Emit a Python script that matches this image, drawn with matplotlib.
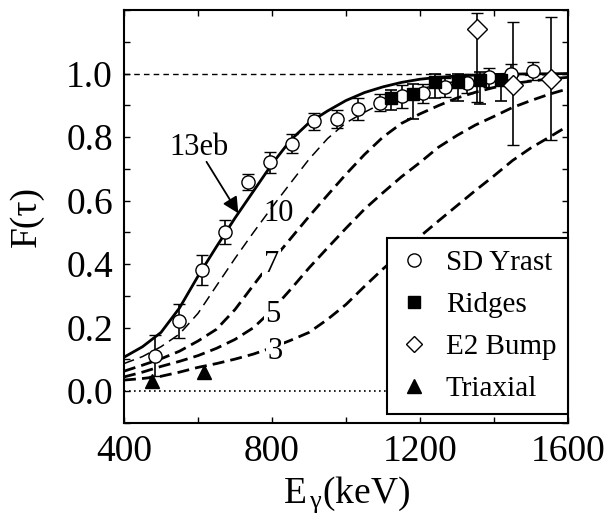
import matplotlib
matplotlib.use('Agg')
import matplotlib.pyplot as plt
from matplotlib.ticker import MultipleLocator, FixedLocator
from matplotlib.lines import Line2D

plt.rcParams['font.family'] = ['Liberation Serif', 'DejaVu Serif']
plt.rcParams['mathtext.fontset'] = 'custom'
plt.rcParams['mathtext.rm'] = 'Liberation Serif'
plt.rcParams['mathtext.it'] = 'Liberation Serif'

# model curves F(tau) for Q0 = 13, 10, 7, 5, 3 eb
e_curve = [400, 450, 500, 550, 600, 650, 700, 750, 800, 850, 900, 950, 1000,
           1050, 1100, 1150, 1200, 1250, 1300, 1350, 1400, 1450, 1500, 1550, 1600]
f13 = [0.107, 0.140, 0.185, 0.262, 0.362, 0.455, 0.545, 0.630, 0.715, 0.790, 0.845, 0.882, 0.915,
       0.940, 0.958, 0.972, 0.982, 0.988, 0.992, 0.995, 0.997, 0.998, 0.999, 0.999, 1.000]
f10 = [0.087, 0.109, 0.140, 0.180, 0.245, 0.332, 0.418, 0.500, 0.579, 0.655, 0.730, 0.795, 0.845,
       0.878, 0.908, 0.932, 0.951, 0.965, 0.976, 0.984, 0.989, 0.992, 0.995, 0.997, 0.998]
f7 = [0.063, 0.082, 0.102, 0.126, 0.158, 0.195, 0.257, 0.334, 0.410, 0.480, 0.550, 0.617, 0.683,
      0.745, 0.800, 0.843, 0.873, 0.899, 0.923, 0.941, 0.956, 0.968, 0.976, 0.983, 0.988]
f5 = [0.045, 0.060, 0.078, 0.094, 0.112, 0.135, 0.163, 0.200, 0.255, 0.320, 0.388, 0.451, 0.513,
      0.573, 0.625, 0.675, 0.720, 0.768, 0.805, 0.838, 0.865, 0.893, 0.915, 0.935, 0.952]
f3 = [0.035, 0.040, 0.047, 0.060, 0.075, 0.087, 0.101, 0.117, 0.137, 0.160, 0.185, 0.226, 0.273,
      0.330, 0.385, 0.435, 0.487, 0.536, 0.584, 0.632, 0.678, 0.726, 0.766, 0.800, 0.835]

# SD yrast
e_sd = [484, 549, 610, 673, 736, 795, 855, 914, 975, 1033, 1092, 1151, 1209, 1268, 1326, 1386, 1445, 1505]
f_sd = [0.112, 0.222, 0.382, 0.500, 0.659, 0.720, 0.779, 0.849, 0.858, 0.889, 0.908, 0.928,
        0.938, 0.957, 0.970, 0.988, 0.999, 1.009]
err_sd = [0.065, 0.053, 0.048, 0.038, 0.026, 0.034, 0.030, 0.026, 0.028, 0.035, 0.027, 0.036,
          0.030, 0.030, 0.030, 0.030, 0.030, 0.028]

# ridges
e_r = [1121, 1181, 1241, 1302, 1361, 1419]
f_r = [0.924, 0.936, 0.973, 0.973, 0.978, 0.978]
r_lo = [0.040, 0.078, 0.050, 0.060, 0.073, 0.065]
r_hi = [0.025, 0.030, 0.025, 0.026, 0.027, 0.022]

# E2 bump
e_b = [1353, 1452, 1553]
f_b = [1.140, 0.965, 0.982]
b_lo = [0.230, 0.190, 0.192]
b_hi = [0.052, 0.196, 0.197]

# triaxial
e_t = [475, 616]
f_t = [0.031, 0.060]

fig = plt.figure(figsize=(6.12, 5.19), dpi=100)
ax = fig.add_axes([0.2026, 0.185, 0.7255, 0.7958])

ax.axhline(1.0, color='k', lw=1.0, dashes=(4, 3), zorder=1)
ax.axhline(0.0, color='k', lw=1.2, dashes=(1, 2), zorder=1)

ax.plot(e_curve, f13, color='k', lw=2.0, zorder=2)
ax.plot(e_curve, f10, color='k', lw=1.1, dashes=(7, 4), zorder=2)
ax.plot(e_curve, f7, color='k', lw=2.0, dashes=(4.3, 2.2), zorder=2)
ax.plot(e_curve, f5, color='k', lw=2.0, dashes=(4.3, 2.2), zorder=2)
ax.plot(e_curve, f3, color='k', lw=2.0, dashes=(4.3, 2.2), zorder=2)

# curve labels (white box makes the gap in the line)
ax.text(603, 0.766, '13eb', fontsize=22, ha='center', va='center', zorder=3)
ax.text(817, 0.56, '10', fontsize=22, ha='center', va='center', zorder=3)
for x, y, s in [(799, 0.398, '7'), (802, 0.24, '5'), (808, 0.126, '3')]:
    ax.text(x, y, s, fontsize=22, ha='center', va='center', zorder=3,
            bbox=dict(facecolor='white', edgecolor='none', pad=1))
ax.annotate('', xy=(709, 0.56), xytext=(623, 0.722),
            arrowprops=dict(arrowstyle='-|>', color='k', lw=1.3, mutation_scale=24,
                            shrinkA=0, shrinkB=0), zorder=3)

eb = dict(ecolor='k', elinewidth=1.2, capsize=4.5, capthick=1.2, zorder=5)
ax.errorbar(e_sd, f_sd, yerr=err_sd, fmt='o', mfc='white', mec='k', ms=9.5, mew=1.0, **eb)
ax.errorbar(e_r, f_r, yerr=[r_lo, r_hi], fmt='s', mfc='k', mec='k', ms=8.5, **eb)
ax.errorbar(e_b, f_b, yerr=[b_lo, b_hi], fmt='D', mfc='white', mec='k', ms=10, mew=1.0, **eb)
ax.plot(e_t, f_t, '^', color='k', ms=10, zorder=5)

handles = [Line2D([], [], ls='none', marker='o', mfc='white', mec='k', ms=9.5),
           Line2D([], [], ls='none', marker='s', mfc='k', mec='k', ms=8.5),
           Line2D([], [], ls='none', marker='D', mfc='white', mec='k', ms=8),
           Line2D([], [], ls='none', marker='^', mfc='k', mec='k', ms=10)]
labels = ['SD Yrast', 'Ridges', 'E2 Bump', 'Triaxial']
leg = ax.legend(handles, labels, loc='lower right', bbox_to_anchor=(1.0, 0.022),
                borderaxespad=0, frameon=True, fancybox=False, edgecolor='k',
                fontsize=21, handlelength=1.0, handletextpad=0.6, labelspacing=0.54,
                borderpad=0.4, framealpha=1)
leg.get_frame().set_linewidth(1.5)
leg.set_zorder(6)

ax.set_xlim(400, 1600)
ax.set_ylim(-0.1, 1.2)
ax.xaxis.set_major_locator(MultipleLocator(400))
ax.xaxis.set_minor_locator(MultipleLocator(200))
ax.yaxis.set_major_locator(FixedLocator([0.0, 0.2, 0.4, 0.6, 0.8, 1.0]))
ax.yaxis.set_minor_locator(MultipleLocator(0.1))
ax.yaxis.set_major_formatter(matplotlib.ticker.FormatStrFormatter('%.1f'))
ax.tick_params(which='both', direction='in', top=True, right=True, length=4, width=1.0)
ax.tick_params(which='major', labelsize=27, pad=8)
for sp in ax.spines.values():
    sp.set_linewidth(1.5)

ax.set_ylabel('F(τ)', fontsize=27)
ax.yaxis.set_label_coords(-0.18, 0.5)
ax.set_xlabel('E$_{\\,\\gamma}$(keV)', fontsize=27)
ax.xaxis.set_label_coords(0.5, -0.125)

fig.savefig('out.png', dpi=100)
